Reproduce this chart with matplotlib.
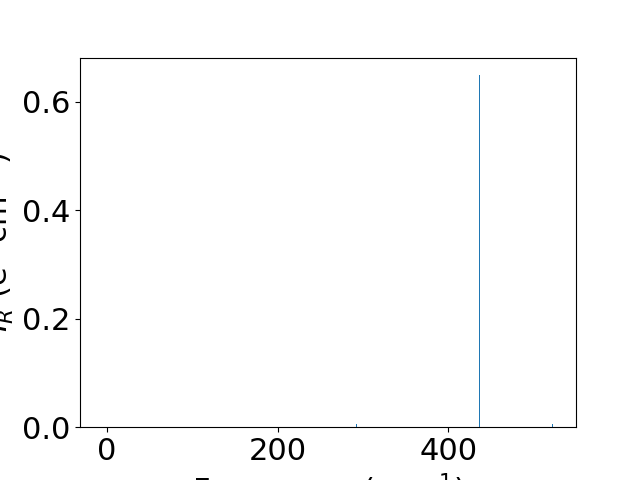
import matplotlib
matplotlib.use("Agg")
import matplotlib.pyplot as plt

plt.rcParams['font.size'] = 22

# normal mode frequencies (cm^-1) and intensities
freqs = [-4.2, 0.0, 1.5, 292.4, 436.0, 522.3]
intens = [0.0, 0.0, 0.0, 0.006, 0.649, 0.005]

fig = plt.figure(figsize=(6.4, 4.8), dpi=100)
ax = fig.add_subplot(111)
ax.bar(freqs, intens, width=1.2, color='C0')
ax.set_xlabel('Frequency (cm$^{-1}$)')
ax.set_ylabel('$I_R$ (e$^2$ cm$^{-1}$)')
fig.savefig('out.png')
